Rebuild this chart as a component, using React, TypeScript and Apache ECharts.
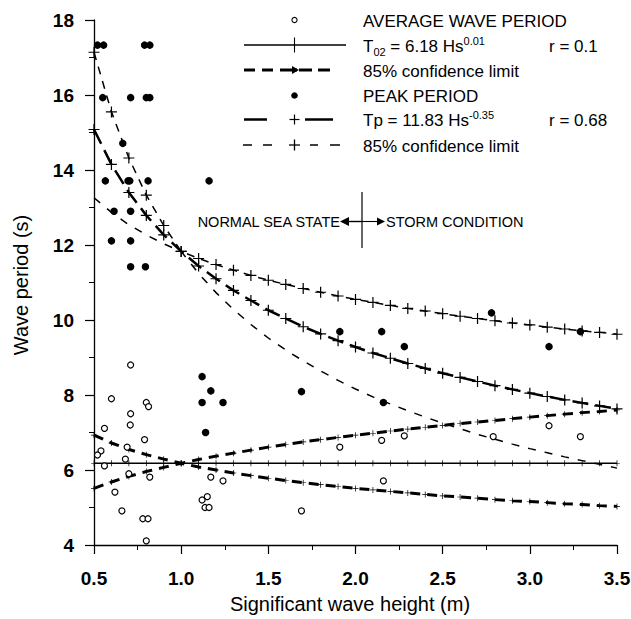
import React, { useEffect, useRef } from 'react';
import * as echarts from 'echarts';

// Significant wave height grid of the fitted curves (m)
const HS = [0.5, 0.6, 0.7, 0.8, 0.9, 1.0, 1.1, 1.2, 1.3, 1.4, 1.5, 1.6, 1.7, 1.8, 1.9, 2.0,
  2.1, 2.2, 2.3, 2.4, 2.5, 2.6, 2.7, 2.8, 2.9, 3.0, 3.1, 3.2, 3.3, 3.4, 3.5];

// Average wave period fit T02 = 6.18 Hs^0.01 and its 85% confidence limits
const T02_FIT = [6.18, 6.18, 6.18, 6.18, 6.18, 6.18, 6.18, 6.18, 6.18, 6.18, 6.18, 6.18, 6.18, 6.18, 6.18, 6.18,
  6.18, 6.18, 6.18, 6.18, 6.18, 6.18, 6.18, 6.18, 6.18, 6.18, 6.18, 6.18, 6.18, 6.18, 6.18];
const T02_CONF_A = [5.51, 5.68, 5.83, 5.96, 6.07, 6.18, 6.28, 6.37, 6.45, 6.53, 6.61, 6.68, 6.75, 6.81, 6.87, 6.93,
  6.98, 7.04, 7.09, 7.14, 7.19, 7.24, 7.28, 7.32, 7.37, 7.41, 7.45, 7.49, 7.53, 7.56, 7.60];
const T02_CONF_B = [6.93, 6.72, 6.55, 6.41, 6.29, 6.18, 6.08, 6.00, 5.92, 5.85, 5.78, 5.72, 5.66, 5.61, 5.56, 5.51,
  5.47, 5.43, 5.39, 5.35, 5.31, 5.28, 5.25, 5.21, 5.18, 5.16, 5.13, 5.10, 5.08, 5.05, 5.03];

// Peak period fit Tp = 11.83 Hs^-0.35 and its 85% confidence limits
const TP_FIT = [15.08, 14.15, 13.40, 12.79, 12.27, 11.83, 11.44, 11.10, 10.79, 10.52, 10.26, 10.04, 9.82, 9.63, 9.45, 9.28,
  9.12, 8.98, 8.84, 8.71, 8.58, 8.47, 8.36, 8.25, 8.15, 8.05, 7.96, 7.87, 7.79, 7.71, 7.63];
const TP_CONF_UP = [17.14, 15.55, 14.32, 13.33, 12.52, 11.83, 11.64, 11.48, 11.33, 11.19, 11.06, 10.95, 10.84, 10.74, 10.64, 10.55,
  10.47, 10.39, 10.31, 10.24, 10.17, 10.10, 10.04, 9.98, 9.92, 9.87, 9.81, 9.76, 9.71, 9.67, 9.62];
const TP_CONF_LOW = [13.26, 12.87, 12.54, 12.27, 12.03, 11.83, 11.24, 10.73, 10.28, 9.88, 9.52, 9.20, 8.91, 8.64, 8.39, 8.16,
  7.95, 7.76, 7.58, 7.41, 7.25, 7.10, 6.95, 6.82, 6.69, 6.57, 6.46, 6.35, 6.25, 6.15, 6.05];

// Observations [Hs, period]
const AVG_POINTS = [
  [0.71, 8.8], [0.60, 7.9], [0.80, 7.8], [0.813, 7.69], [0.71, 7.5], [0.708, 7.2], [0.56, 7.11], [0.79, 6.81],
  [0.69, 6.61], [0.54, 6.51], [0.52, 6.4], [0.68, 6.29], [0.56, 6.11], [0.70, 5.9], [0.82, 5.81], [0.62, 5.41],
  [0.66, 4.91], [0.78, 4.7], [0.81, 4.7], [0.80, 4.11],
  [1.17, 5.81], [1.24, 5.71], [1.15, 5.29], [1.12, 5.2], [1.137, 5.0], [1.16, 5.0], [1.69, 4.91], [1.91, 6.61],
  [2.15, 6.79], [2.28, 6.91], [2.16, 5.71], [2.79, 6.89], [3.11, 7.18], [3.29, 6.89],
];
const PEAK_POINTS = [
  [0.52, 17.33], [0.555, 17.33], [0.79, 17.33], [0.82, 17.33],
  [0.55, 15.93], [0.71, 15.93], [0.80, 15.93], [0.82, 15.93],
  [0.665, 14.71],
  [0.565, 13.71], [0.695, 13.71], [0.705, 13.71], [0.81, 13.71], [1.16, 13.71],
  [0.615, 12.9], [0.71, 12.9],
  [0.60, 12.11], [0.71, 12.11],
  [0.71, 11.42], [0.795, 11.42],
  [1.12, 8.49], [1.17, 8.11], [1.12, 7.80], [1.24, 7.80], [1.14, 7.0],
  [1.69, 8.09], [1.91, 9.69], [2.15, 9.69], [2.28, 9.29], [2.16, 7.80], [2.78, 10.19], [3.11, 9.29], [3.29, 9.69],
];

const X_MIN = 0.5;
const X_MAX = 3.5;
const X_STEP = 0.5;
const Y_MIN = 4;
const Y_MAX = 18;
const Y_STEP = 2;

const FONT = '"Liberation Sans", Arial, Helvetica, sans-serif';
const PLUS = 'path://M4.4,0H5.6V4.4H10V5.6H5.6V10H4.4V5.6H0V4.4H4.4Z';
const PLUS_THIN = 'path://M4.45,0H5.55V4.45H10V5.55H5.55V10H4.45V5.55H0V4.45H4.45Z';

const pair = (ys: number[]) => HS.map((x, i) => [x, ys[i]]);

function plusLines(cx: number, cy: number, h: number, w: number, lw: number) {
  return [
    { type: 'line', shape: { x1: cx, y1: cy - h / 2, x2: cx, y2: cy + h / 2 }, style: { stroke: '#000', lineWidth: lw } },
    { type: 'line', shape: { x1: cx - w / 2, y1: cy, x2: cx + w / 2, y2: cy }, style: { stroke: '#000', lineWidth: lw } },
  ];
}

function seg(x1: number, x2: number, y: number, lw: number) {
  return { type: 'line', shape: { x1, y1: y, x2, y2: y }, style: { stroke: '#000', lineWidth: lw } };
}

export default function App() {
  const ref = useRef<HTMLDivElement>(null);

  useEffect(() => {
    if (!ref.current) return;
    const chart = echarts.init(ref.current, null, { renderer: 'svg' });

    const rich = {
      a: { fontSize: 17, fontFamily: FONT, color: '#000', lineHeight: 22 },
      sub: { fontSize: 11, fontFamily: FONT, color: '#000', lineHeight: 11, verticalAlign: 'bottom' },
      sup: { fontSize: 11, fontFamily: FONT, color: '#000', lineHeight: 11, verticalAlign: 'top' },
    };
    const legendText = (x: number, y: number, text: string) => ({
      type: 'text', x, y,
      style: { text, font: `17px ${FONT}`, fill: '#000', align: 'left', verticalAlign: 'middle' },
    });
    const richText = (x: number, y: number, text: string) => ({
      type: 'text', x, y,
      style: { text, rich, fill: '#000', align: 'left', verticalAlign: 'middle', font: `17px ${FONT}` },
    });

    const lx = 294.5;
    const graphic: any[] = [
      // legend symbols
      { type: 'circle', shape: { cx: lx, cy: 20, r: 2.6 }, style: { fill: '#fff', stroke: '#000', lineWidth: 1.1 } },
      seg(244, 346, 45, 1.3),
      { type: 'line', shape: { x1: lx, y1: 37.5, x2: lx, y2: 52.5 }, style: { stroke: '#000', lineWidth: 1.1 } },
      seg(244, 255, 70, 3),
      seg(262, 273, 70, 3),
      seg(280, 297, 70, 3),
      seg(299, 312, 70, 3),
      seg(318, 330, 70, 3),
      { type: 'polygon', shape: { points: [[299, 70], [292, 66], [292, 74]] }, style: { fill: '#000' } },
      { type: 'circle', shape: { cx: lx, cy: 95.5, r: 3.3 }, style: { fill: '#000' } },
      seg(244, 267, 119.5, 2.5),
      seg(305, 333, 119.5, 2.5),
      ...plusLines(lx, 119.5, 10, 10, 1.2),
      seg(243, 252, 145, 1.5),
      seg(263, 272, 145, 1.5),
      seg(310, 318, 145, 1.5),
      seg(330, 340, 145, 1.5),
      ...plusLines(lx, 145, 11, 11, 1.3),
      // legend texts
      legendText(363, 21, 'AVERAGE WAVE PERIOD'),
      richText(363, 46, '{a|T}{sub|02}{a| = 6.18 Hs}{sup|0.01}'),
      legendText(549, 46, 'r = 0.1'),
      legendText(363, 71.5, '85% confidence limit'),
      legendText(363, 96.5, 'PEAK PERIOD'),
      richText(363, 120.5, '{a|Tp = 11.83 Hs}{sup|-0.35}'),
      legendText(549, 120.5, 'r = 0.68'),
      legendText(363, 146, '85% confidence limit'),
      // sea state annotation
      {
        type: 'text', x: 340, y: 221.5,
        style: { text: 'NORMAL SEA STATE', font: `14.5px ${FONT}`, fill: '#000', align: 'right', verticalAlign: 'middle' },
      },
      { type: 'line', shape: { x1: 362, y1: 192, x2: 362, y2: 248 }, style: { stroke: '#000', lineWidth: 1.2 } },
      seg(346, 362, 221.5, 1.4),
      { type: 'polygon', shape: { points: [[340, 221.5], [349, 217], [349, 226]] }, style: { fill: '#000' } },
      seg(362, 378, 221.5, 1.1),
      { type: 'polygon', shape: { points: [[385, 221.5], [377, 217.5], [377, 225.5]] }, style: { fill: '#000' } },
      {
        type: 'text', x: 386, y: 222,
        style: { text: 'STORM CONDITION', font: `14.5px ${FONT}`, fill: '#000', align: 'left', verticalAlign: 'middle' },
      },
      // axis titles
      {
        type: 'text', x: 21, y: 285, rotation: Math.PI / 2,
        style: { text: 'Wave period (s)', font: `20px ${FONT}`, fill: '#000', align: 'center', verticalAlign: 'middle' },
      },
      {
        type: 'text', x: 350, y: 604,
        style: { text: 'Significant wave height (m)', font: `20px ${FONT}`, fill: '#000', align: 'center', verticalAlign: 'middle' },
      },
    ];

    const lineBase = { type: 'line', silent: true, animation: false, showAllSymbol: true, emphasis: { disabled: true } };

    chart.setOption({
      animation: false,
      backgroundColor: '#fff',
      grid: { left: 94, top: 20, width: 523, height: 525, containLabel: false, outerBoundsMode: 'none' },
      xAxis: {
        type: 'value', min: X_MIN, max: X_MAX, interval: X_STEP,
        axisLine: { show: true, onZero: false, lineStyle: { color: '#000', width: 1.3 } },
        axisTick: { show: true, inside: false, length: 9, lineStyle: { color: '#000', width: 1.2 } },
        minorTick: { show: true, splitNumber: 2, length: 5, lineStyle: { color: '#000', width: 1 } },
        splitLine: { show: false },
        axisLabel: {
          margin: 24, color: '#000', fontFamily: FONT, fontSize: 19, fontWeight: 'bold',
          showMinLabel: true, showMaxLabel: true,
          formatter: (v: number) => v.toFixed(1),
        },
      },
      yAxis: {
        type: 'value', min: Y_MIN, max: Y_MAX, interval: Y_STEP,
        axisLine: { show: true, onZero: false, lineStyle: { color: '#000', width: 1.3 } },
        axisTick: { show: true, inside: false, length: 9, lineStyle: { color: '#000', width: 1.2 } },
        minorTick: { show: true, splitNumber: 2, length: 5, lineStyle: { color: '#000', width: 1 } },
        splitLine: { show: false },
        axisLabel: {
          margin: 20, color: '#000', fontFamily: FONT, fontSize: 19, fontWeight: 'bold',
          showMinLabel: true, showMaxLabel: true,
        },
      },
      graphic,
      series: [
        {
          ...lineBase, name: 'T02 fit', data: pair(T02_FIT), z: 3,
          lineStyle: { color: '#000', width: 1.4, type: 'solid' },
          symbol: PLUS, symbolSize: 6, itemStyle: { color: '#000', opacity: 1 },
        },
        {
          ...lineBase, name: 'T02 85% A', data: pair(T02_CONF_A), z: 3,
          lineStyle: { color: '#000', width: 3, type: [10, 7] },
          symbol: PLUS, symbolSize: 6, itemStyle: { color: '#000', opacity: 1 },
        },
        {
          ...lineBase, name: 'T02 85% B', data: pair(T02_CONF_B), z: 3,
          lineStyle: { color: '#000', width: 3, type: [10, 7] },
          symbol: PLUS, symbolSize: 6, itemStyle: { color: '#000', opacity: 1 },
        },
        {
          ...lineBase, name: 'Tp fit', data: pair(TP_FIT), z: 3,
          lineStyle: { color: '#000', width: 2.5, type: [16, 7] },
          symbol: PLUS_THIN, symbolSize: 11, itemStyle: { color: '#000', opacity: 1 },
        },
        {
          ...lineBase, name: 'Tp 85% upper', data: pair(TP_CONF_UP), z: 3,
          lineStyle: { color: '#000', width: 1.5, type: [8, 7] },
          symbol: PLUS_THIN, symbolSize: 11, itemStyle: { color: '#000', opacity: 1 },
        },
        {
          ...lineBase, name: 'Tp 85% lower', data: pair(TP_CONF_LOW), z: 3,
          lineStyle: { color: '#000', width: 1.5, type: [8, 9] },
          symbol: 'none',
        },
        {
          type: 'scatter', name: 'Average wave period', data: AVG_POINTS, z: 5, silent: true,
          symbol: 'circle', symbolSize: 6,
          itemStyle: { color: '#fff', borderColor: '#000', borderWidth: 1.2, opacity: 1 },
        },
        {
          type: 'scatter', name: 'Peak period', data: PEAK_POINTS, z: 5, silent: true,
          symbol: 'circle', symbolSize: 7.5,
          itemStyle: { color: '#000', opacity: 1 },
        },
      ],
    });

    return () => chart.dispose();
  }, []);

  return (
    <div
      ref={ref}
      style={{ position: 'fixed', left: 0, top: 0, width: 631, height: 619, background: '#fff' }}
    />
  );
}
